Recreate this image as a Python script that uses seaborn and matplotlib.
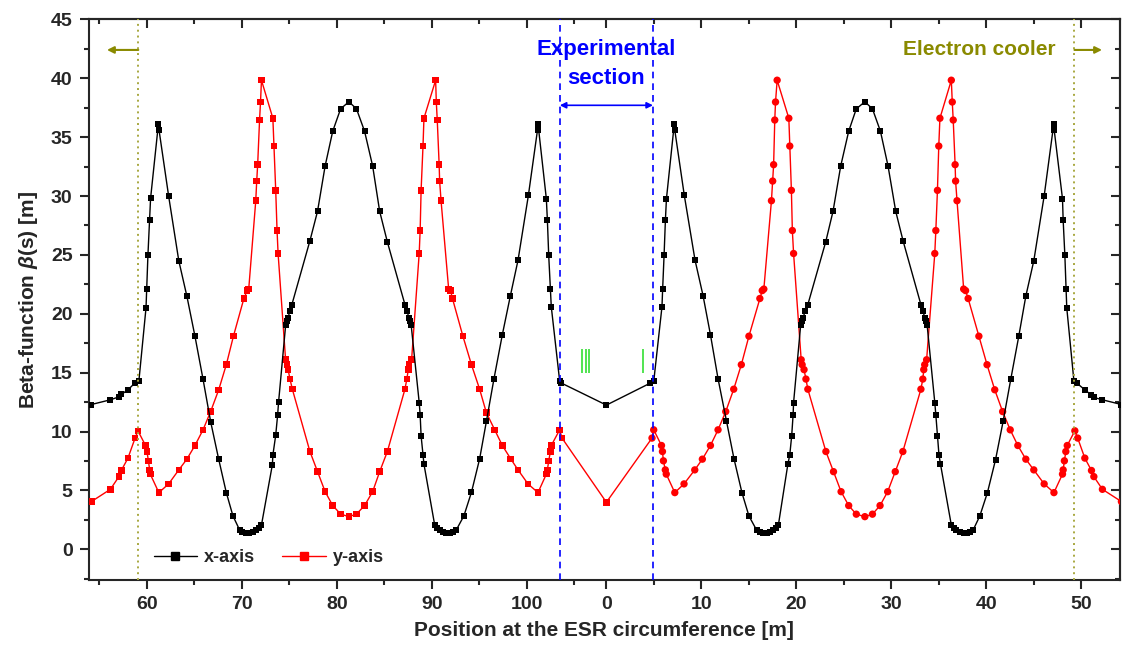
import numpy as np
import pandas as pd
import matplotlib
matplotlib.use("Agg")
import matplotlib.pyplot as plt
from matplotlib.lines import Line2D
from matplotlib.ticker import FixedLocator, FixedFormatter, NullFormatter
import seaborn as sns

CIRC = 108.36  # ESR circumference [m]

# --- horizontal beta function, arc 54 m .. 108.36 m (left half of the plot)
s_x_arc2 = [54.16, 56.16, 57.06, 57.31, 58.01, 58.71, 59.16, 59.91, 59.98, 60.11,
            60.29, 60.39, 61.22, 61.28, 62.29, 63.36, 64.21, 65.06, 65.91, 66.71,
            67.56, 68.36, 69.06, 69.76, 70.06, 70.40, 70.76, 71.16, 71.52, 71.80,
            72.06, 73.21, 73.26, 73.56, 73.76, 73.86, 74.61, 74.76, 74.86, 75.03,
            75.26, 77.16, 77.96, 78.76, 79.56, 80.39, 81.26, 82.06, 82.91, 83.76,
            84.50, 85.31, 87.16, 87.41, 87.56, 87.66, 87.81, 88.66, 88.76, 88.86,
            89.06, 89.16, 90.29, 90.56, 90.86, 91.16, 91.51, 91.86, 92.21, 92.56,
            93.36, 94.16, 95.02, 95.73, 96.53, 97.41, 98.26, 99.06, 100.15, 101.11,
            101.16, 102.04, 102.15, 102.29, 102.47, 102.56, 103.44, 103.62, 108.36]
beta_x_arc2 = [12.30, 12.70, 12.95, 13.15, 13.55, 14.10, 14.30, 20.50, 22.10, 24.95,
               27.95, 29.80, 36.15, 35.60, 30.00, 24.50, 21.50, 18.10, 14.45, 10.85,
               7.65, 4.82, 2.84, 1.65, 1.45, 1.37, 1.37, 1.45, 1.65, 1.85,
               2.07, 7.20, 8.00, 9.70, 11.40, 12.50, 19.08, 19.36, 19.65, 20.20,
               20.78, 26.20, 28.70, 32.55, 35.50, 37.40, 38.00, 37.40, 35.50, 32.55,
               28.70, 26.10, 20.78, 20.20, 19.65, 19.36, 19.08, 12.47, 11.43, 9.64,
               8.03, 7.24, 2.07, 1.85, 1.65, 1.45, 1.37, 1.37, 1.45, 1.65,
               2.84, 4.85, 7.69, 10.86, 14.49, 18.23, 21.55, 24.55, 30.05, 35.60,
               36.15, 29.77, 27.95, 24.95, 22.10, 20.60, 14.32, 14.12, 12.25]

# --- horizontal beta function, arc 0 .. 54 m (right half)
s_x_arc1 = [4.63, 4.99, 5.85, 5.92, 6.07, 6.21, 6.32, 7.15, 7.20, 8.20,
            9.33, 10.17, 10.95, 11.75, 12.63, 13.43, 14.27, 15.00, 15.80, 16.15,
            16.50, 16.85, 17.20, 17.50, 17.90, 18.10, 19.10, 19.30, 19.50, 19.65,
            19.70, 20.45, 20.60, 20.70, 20.90, 21.20, 23.08, 23.85, 24.66, 25.50,
            26.30, 27.20, 28.00, 28.84, 29.64, 30.45, 31.22, 33.10, 33.33, 33.50,
            33.60, 33.75, 34.56, 34.67, 34.84, 35.00, 35.16, 36.30, 36.56, 36.84,
            37.20, 37.60, 37.96, 38.30, 38.60, 39.30, 40.10, 40.95, 41.75, 42.56,
            43.40, 44.14, 44.98, 46.07, 47.08, 47.13, 48.00, 48.07, 48.25, 48.38,
            48.45, 49.20, 49.50, 50.35, 51.05, 51.30, 52.20, 54.20]
beta_x_arc1 = [14.12, 14.32, 20.60, 22.10, 24.95, 27.95, 29.77, 36.15, 35.58, 30.05,
               24.55, 21.55, 18.23, 14.49, 10.93, 7.69, 4.80, 2.84, 1.65, 1.45,
               1.37, 1.37, 1.45, 1.65, 1.85, 2.07, 7.24, 8.03, 9.64, 11.43,
               12.47, 19.08, 19.36, 19.65, 20.20, 20.78, 26.10, 28.70, 32.55, 35.50,
               37.40, 38.00, 37.40, 35.50, 32.55, 28.70, 26.20, 20.78, 20.20, 19.65,
               19.36, 19.08, 12.47, 11.43, 9.64, 8.03, 7.24, 2.07, 1.85, 1.65,
               1.45, 1.37, 1.37, 1.45, 1.65, 2.84, 4.82, 7.60, 10.86, 14.46,
               18.10, 21.50, 24.50, 30.00, 36.10, 35.58, 29.77, 27.95, 24.95, 22.10,
               20.50, 14.32, 14.12, 13.55, 13.10, 12.90, 12.70, 12.30]

# --- vertical beta function, arc 54 m .. 108.36 m
s_y_arc2 = [54.16, 56.16, 57.06, 57.31, 58.01, 58.76, 59.06, 59.86, 60.01, 60.16,
            60.29, 60.36, 61.26, 62.29, 63.36, 64.21, 65.06, 65.91, 66.71, 67.56,
            68.36, 69.11, 70.21, 70.56, 70.72, 71.46, 71.56, 71.66, 71.86, 71.96,
            72.06, 73.26, 73.38, 73.56, 73.70, 73.81, 74.60, 74.76, 74.86, 75.06,
            75.31, 77.16, 77.96, 78.76, 79.56, 80.39, 81.26, 82.06, 82.91, 83.76,
            84.50, 85.31, 87.16, 87.36, 87.51, 87.61, 87.86, 88.66, 88.76, 88.86,
            89.06, 89.16, 90.39, 90.46, 90.56, 90.76, 90.81, 90.96, 91.76, 91.96,
            92.16, 93.26, 94.16, 95.02, 95.73, 96.60, 97.41, 98.29, 99.06, 100.11,
            101.16, 102.04, 102.15, 102.29, 102.47, 102.56, 103.44, 103.69, 108.36]
beta_y_arc2 = [4.06, 5.10, 6.18, 6.70, 7.75, 9.45, 10.07, 8.82, 8.31, 7.52,
               6.75, 6.39, 4.82, 5.56, 6.75, 7.66, 8.82, 10.15, 11.70, 13.55,
               15.68, 18.10, 21.30, 21.97, 22.10, 29.60, 31.27, 32.66, 36.45, 37.98,
               39.83, 36.60, 34.24, 30.48, 27.07, 25.12, 16.10, 15.68, 15.26, 14.46,
               13.60, 8.31, 6.60, 4.90, 3.72, 3.00, 2.78, 3.00, 3.72, 4.90,
               6.60, 8.31, 13.60, 14.46, 15.26, 15.68, 16.10, 25.12, 27.07, 30.48,
               34.24, 36.60, 39.83, 37.98, 36.45, 32.66, 31.27, 29.60, 22.10, 21.97,
               21.30, 18.10, 15.68, 13.60, 11.60, 10.15, 8.82, 7.69, 6.75, 5.56,
               4.82, 6.39, 6.75, 7.52, 8.31, 8.82, 10.15, 9.45, 4.00]

# --- vertical beta function, arc 0 .. 54 m
s_y_arc1 = [4.80, 4.98, 5.80, 5.90, 6.00, 6.20, 6.30, 7.20, 8.17, 9.30,
            10.10, 10.95, 11.75, 12.56, 13.40, 14.20, 15.00, 16.15, 16.40, 16.57,
            17.37, 17.50, 17.60, 17.72, 17.80, 17.97, 19.20, 19.30, 19.47, 19.57,
            19.70, 20.50, 20.60, 20.80, 21.00, 21.20, 23.10, 23.90, 24.70, 25.50,
            26.30, 27.20, 28.00, 28.80, 29.60, 30.40, 31.20, 33.10, 33.30, 33.40,
            33.50, 33.70, 34.56, 34.67, 34.84, 34.98, 35.10, 36.30, 36.40, 36.50,
            36.70, 36.75, 36.90, 37.60, 37.80, 38.07, 39.20, 40.06, 40.87, 41.70,
            42.50, 43.30, 44.14, 44.98, 46.07, 47.10, 48.00, 48.07, 48.20, 48.35,
            48.50, 49.30, 49.60, 50.35, 51.05, 51.30, 52.20, 54.20]
beta_y_arc1 = [9.45, 10.15, 8.82, 8.31, 7.52, 6.75, 6.39, 4.82, 5.56, 6.75,
               7.66, 8.82, 10.15, 11.70, 13.60, 15.68, 18.10, 21.30, 21.97, 22.10,
               29.60, 31.27, 32.66, 36.45, 37.98, 39.83, 36.60, 34.24, 30.48, 27.07,
               25.12, 16.10, 15.68, 15.26, 14.46, 13.60, 8.31, 6.60, 4.90, 3.72,
               2.99, 2.78, 2.99, 3.72, 4.90, 6.60, 8.31, 13.60, 14.46, 15.26,
               15.68, 16.10, 25.12, 27.07, 30.48, 34.24, 36.60, 39.83, 37.98, 36.45,
               32.66, 31.27, 29.60, 22.10, 21.97, 21.30, 18.10, 15.68, 13.55, 11.70,
               10.15, 8.82, 7.66, 6.75, 5.56, 4.82, 6.39, 6.75, 7.52, 8.31,
               8.82, 10.07, 9.45, 7.75, 6.70, 6.18, 5.10, 4.06]

# ring positions of annotations
exp_section = [103.46, 4.90]         # experimental section borders
cooler_marks = [59.10, 49.26]        # electron cooler borders
green_marks = [105.83, 106.18, 106.55, 3.86]

tick_major = [60, 70, 80, 90, 100, 0, 10, 20, 30, 40, 50]
tick_minor = [55, 65, 75, 85, 95, 105, 5, 15, 25, 35, 45]


def to_plot(s):
    # unfold the ring so that the experimental section sits in the middle
    s = np.asarray(s, dtype=float)
    return np.where(s > CIRC / 2, s - CIRC, s)


bx = pd.DataFrame({
    "pos": np.concatenate([np.array(s_x_arc2) - CIRC, s_x_arc1]),
    "beta": beta_x_arc2 + beta_x_arc1,
})
by = pd.DataFrame({
    "pos": np.concatenate([np.array(s_y_arc2) - CIRC, s_y_arc1]),
    "beta": beta_y_arc2 + beta_y_arc1,
    "arc": ["arc2"] * len(s_y_arc2) + ["arc1"] * len(s_y_arc1),
})

sns.set_style("ticks")
plt.rcParams["font.family"] = ["Liberation Sans", "DejaVu Sans"]
plt.rcParams["font.weight"] = "bold"
plt.rcParams["mathtext.fontset"] = "custom"
plt.rcParams["mathtext.it"] = "Liberation Sans:italic:bold"
plt.rcParams["mathtext.rm"] = "Liberation Sans:bold"

fig = plt.figure(figsize=(11.22, 6.48), dpi=100)
ax = fig.add_axes([0.0789, 0.1049, 0.9193, 0.8653])

# y-axis (red): line, then squares on one arc and circles on the other
sns.lineplot(data=by, x="pos", y="beta", sort=False, estimator=None,
             color="red", lw=1.0, ax=ax)
sns.scatterplot(data=by[by["arc"] == "arc2"], x="pos", y="beta", marker="s",
                s=22, color="red", edgecolor="none", ax=ax, zorder=3)
sns.scatterplot(data=by[by["arc"] == "arc1"], x="pos", y="beta", marker="o",
                s=28, color="red", edgecolor="none", ax=ax, zorder=3)

# x-axis (black)
sns.lineplot(data=bx, x="pos", y="beta", sort=False, estimator=None,
             color="black", lw=1.0, marker="s", markersize=4.6,
             markeredgewidth=0, ax=ax, zorder=4)

# experimental section
for p in to_plot(exp_section):
    ax.axvline(p, color="blue", lw=1.2, ls=(0, (4, 3)), zorder=5)
xs = to_plot(exp_section)
ax.annotate("", xy=(xs[1], 37.7), xytext=(xs[0], 37.7),
            arrowprops=dict(arrowstyle="<|-|>", color="blue", lw=1.2,
                            mutation_scale=9, shrinkA=0, shrinkB=0))
ax.text(0, 41.2, "Experimental\nsection", ha="center", va="center",
        color="blue", fontsize=16, fontweight="bold", linespacing=1.45)

# electron cooler
olive = "#8a8a00"
xc = to_plot(cooler_marks)
for p in xc:
    ax.axvline(p, color="#a8a840", lw=1.4, ls=(0, (1, 2)), zorder=5)
ax.annotate("", xy=(xc[0] - 3.3, 42.4), xytext=(xc[0], 42.4),
            arrowprops=dict(arrowstyle="-|>", color=olive, lw=1.5,
                            mutation_scale=10, shrinkA=0, shrinkB=0))
ax.annotate("", xy=(xc[1] + 2.9, 42.4), xytext=(xc[1], 42.4),
            arrowprops=dict(arrowstyle="-|>", color=olive, lw=1.5,
                            mutation_scale=10, shrinkA=0, shrinkB=0))
ax.text(47.3, 42.4, "Electron cooler", ha="right", va="center",
        color=olive, fontsize=15, fontweight="bold")

# green markers
ax.vlines(to_plot(green_marks), 15.0, 17.0, color="#22dd22", lw=1.1)

# axes
ax.set_xlim(-54.5, 54.05)
ax.set_ylim(-2.6, 45)
maj = to_plot(tick_major)
mnr = to_plot(tick_minor)
ax.xaxis.set_major_locator(FixedLocator(maj))
ax.xaxis.set_major_formatter(FixedFormatter([str(t) for t in tick_major]))
ax.xaxis.set_minor_locator(FixedLocator(mnr))
ax.set_yticks(np.arange(0, 46, 5))
ax.set_yticks(np.arange(-2.5, 45, 5), minor=True)
ax.tick_params(which="major", direction="out", length=6.5, width=1.5,
               labelsize=14, pad=5)
ax.tick_params(which="minor", direction="out", length=3.5, width=1.5)
for lab in ax.get_xticklabels() + ax.get_yticklabels():
    lab.set_fontweight("bold")
for sp in ax.spines.values():
    sp.set_visible(True)
    sp.set_linewidth(1.5)

secx = ax.secondary_xaxis("top")
secx.xaxis.set_major_locator(FixedLocator(maj))
secx.xaxis.set_minor_locator(FixedLocator(mnr))
secx.xaxis.set_major_formatter(NullFormatter())
secx.tick_params(which="major", direction="in", length=6.5, width=1.5)
secx.tick_params(which="minor", direction="in", length=3.5, width=1.5)
secx.spines["top"].set_linewidth(1.5)

secy = ax.secondary_yaxis("right")
secy.set_yticks(np.arange(0, 46, 5))
secy.set_yticks(np.arange(-2.5, 45, 5), minor=True)
secy.yaxis.set_major_formatter(NullFormatter())
secy.tick_params(which="major", direction="in", length=6.5, width=1.5)
secy.tick_params(which="minor", direction="in", length=3.5, width=1.5)
secy.spines["right"].set_linewidth(1.5)

ax.set_xlabel("Position at the ESR circumference [m]", fontsize=15,
              fontweight="bold", labelpad=6)
ax.set_ylabel(r"Beta-function $\beta$(s) [m]", fontsize=15,
              fontweight="bold", labelpad=8)

handles = [Line2D([], [], color="black", lw=1.0, marker="s", markersize=6),
           Line2D([], [], color="red", lw=1.0, marker="s", markersize=6)]
ax.legend(handles, ["x-axis", "y-axis"], loc="center left",
          bbox_to_anchor=(0.063, 0.04), ncol=2, frameon=False,
          handlelength=2.4, handletextpad=0.4, columnspacing=1.5,
          borderpad=0, borderaxespad=0,
          prop={"size": 13, "weight": "bold"})

fig.savefig("out.png", dpi=100)
